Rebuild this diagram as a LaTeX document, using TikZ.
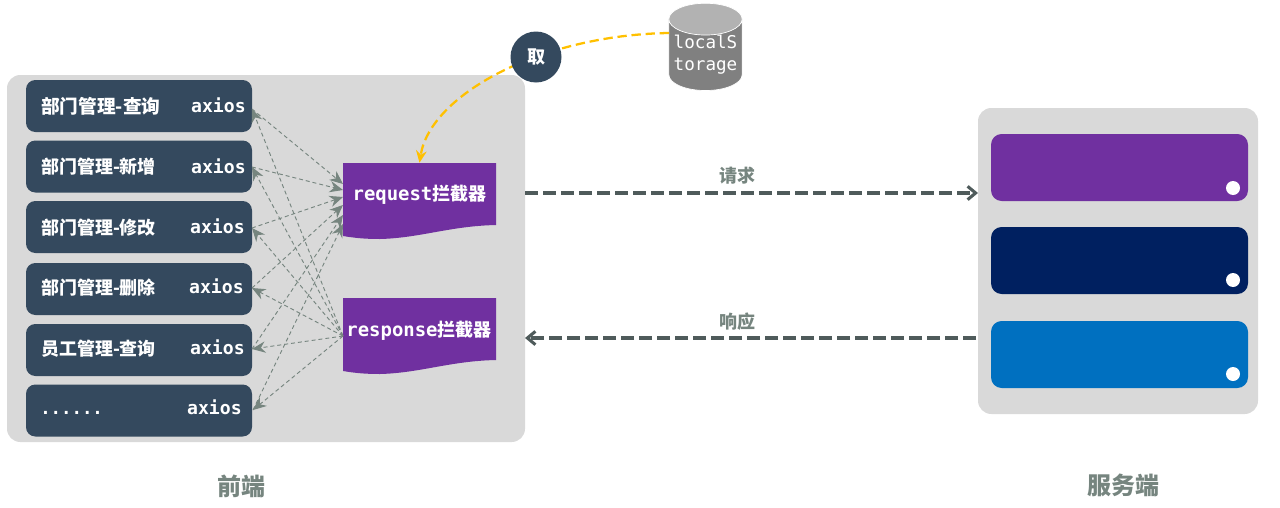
\documentclass[tikz,border=0pt]{standalone}
\usepackage{fontspec}
\usetikzlibrary{arrows.meta,shapes.geometric}
\setmonofont{DejaVu Sans Mono}
\newfontfamily\cjk{Noto Sans CJK SC}
\definecolor{panelgray}{HTML}{D9D9D9}
\definecolor{apiblue}{HTML}{34495E}
\definecolor{docpurple}{HTML}{7030A0}
\definecolor{srvnavy}{HTML}{002060}
\definecolor{srvblue}{HTML}{0070C0}
\definecolor{labelgray}{HTML}{76857F}
\definecolor{mainarrow}{HTML}{4F5B5B}
\definecolor{fetchyellow}{HTML}{FFC000}

\begin{document}
\begin{tikzpicture}[
                x=0.75pt, y=-0.75pt,          % 1 unit = 1 pixel
                panel/.style={fill=panelgray, rounded corners=10pt, inner sep=0pt},
                apibox/.style={fill=apiblue, rounded corners=7pt, inner sep=0pt,
                    minimum width=169.5pt, minimum height=39pt},
                apitext/.style={anchor=west, text=white, inner sep=0pt,
                    font=\cjk\bfseries\fontsize{13.45}{16}\selectfont},
                axiostext/.style={anchor=east, text=white, inner sep=0pt,
                    font=\ttfamily\bfseries\fontsize{13.6}{16}\selectfont},
                doctext/.style={text=white, inner sep=0pt,
                    font=\ttfamily\bfseries\fontsize{14.2}{16}\selectfont},
                srvbox/.style={rounded corners=8pt, inner sep=0pt,
                    minimum width=192.75pt, minimum height=50.25pt},
                srvdot/.style={circle, fill=white, inner sep=0pt, minimum size=10.5pt},
                title/.style={text=labelgray, inner sep=0pt,
                    font=\cjk\bfseries\fontsize{18}{22}\selectfont},
                caption/.style={text=labelgray, inner sep=0pt,
                    font=\cjk\bfseries\fontsize{13.5}{16}\selectfont},
                thinarrow/.style={-{Stealth[length=10pt,width=8.5pt]}, labelgray,
                    line width=0.7pt, dash pattern=on 3pt off 2.2pt},
                mainarr/.style={-{Straight Barb[length=6pt,width=10pt]}, mainarrow,
                    line width=2.3pt, dash pattern=on 9.5pt off 4pt}
            ]
                \useasboundingbox (0,0) rectangle (1280,507);

                % 底板
                \node[panel, minimum width=388.5pt, minimum height=275.25pt] (front) at (266,258.5) {};
                \node[panel, minimum width=210pt, minimum height=229.5pt] (back) at (1118,261) {};

                % 左侧按钮
                \node[apibox] (b1) at (139,106) {};
                \node[apibox] (b2) at (139,166.5) {};
                \node[apibox] (b3) at (139,227) {};
                \node[apibox] (b4) at (139,289) {};
                \node[apibox] (b5) at (139,350) {};
                \node[apibox] (b6) at (139,410.5) {};

                \node[apitext, font=\cjk\bfseries\fontsize{14}{16}\selectfont] (t1) at (41,106) {部门管理-查询};
                \node[apitext] (t2) at (41,167) {部门管理-新增};
                \node[apitext] (t3) at (41,228) {部门管理-修改};
                \node[apitext] (t4) at (41,288) {部门管理-删除};
                \node[apitext] (t5) at (41,349) {员工管理-查询};
                \node[apitext, font=\ttfamily\bfseries\fontsize{13}{16}\selectfont] (t6) at (40,413) {......};

                \node[axiostext] (ax1) at (246,105) {axios};
                \node[axiostext] (ax2) at (246,166) {axios};
                \node[axiostext] (ax3) at (245,226) {axios};
                \node[axiostext] (ax4) at (244,286) {axios};
                \node[axiostext] (ax5) at (245,347) {axios};
                \node[axiostext] (ax6) at (242,407) {axios};

                % 拦截器
                \fill[docpurple] (343,163) -- (496,163) -- (496,225)
                    .. controls (450,226) and (420,238) .. (380,239)
                    .. controls (365,239) and (355,238) .. (343,236) -- cycle;
                \fill[docpurple] (343,298) -- (496,298) -- (496,360)
                    .. controls (450,361) and (420,373) .. (380,374)
                    .. controls (365,374) and (355,373) .. (343,371) -- cycle;
                \node[inner sep=0pt, minimum width=114.75pt, minimum height=54.75pt] (req) at (419.5,199.5) {};
                \node[inner sep=0pt, minimum width=114.75pt, minimum height=54.75pt] (resp) at (419.5,334.5) {};
                \node[doctext] (reqtext) at (419.5,194.5) {request{\cjk\fontsize{13.5}{16}\selectfont 拦截器}};
                \node[doctext] (resptext) at (419,330.5) {response{\cjk\fontsize{13.5}{16}\selectfont 拦截器}};

                % 虚线端点
                \coordinate (p1) at (252,109);
                \coordinate (p2) at (252,167);
                \coordinate (p3) at (252,228);
                \coordinate (p4) at (252,288);
                \coordinate (p5) at (252,349);
                \coordinate (p6) at (253,410);
                \coordinate (q1) at (343,184);
                \coordinate (q2) at (343,190);
                \coordinate (q3) at (343,197);
                \coordinate (q4) at (343,205);
                \coordinate (q5) at (343,215);
                \coordinate (q6) at (343,224);
                \coordinate (r0) at (343,336);

                % 请求
                \draw[thinarrow] (p1) -- (q1);
                \draw[thinarrow] (p2) -- (q2);
                \draw[thinarrow] (p3) -- (q3);
                \draw[thinarrow] (p4) -- (q4);
                \draw[thinarrow] (p5) -- (q5);
                \draw[thinarrow] (p6) -- (q6);
                % 响应
                \draw[thinarrow] (r0) -- (p1);
                \draw[thinarrow] (r0) -- (p2);
                \draw[thinarrow] (r0) -- (p3);
                \draw[thinarrow] (r0) -- (p4);
                \draw[thinarrow] (r0) -- (p5);
                \draw[thinarrow] (r0) -- (p6);

                % 服务端
                \node[srvbox, fill=docpurple] (s1) at (1119.5,167.5) {};
                \node[srvbox, fill=srvnavy] (s2) at (1119.5,260.5) {};
                \node[srvbox, fill=srvblue] (s3) at (1119.5,354.5) {};
                \node[srvdot] (d1) at (1233,188) {};
                \node[srvdot] (d2) at (1233,280) {};
                \node[srvdot] (d3) at (1233,374) {};

                % localStorage
                \node[cylinder, shape border rotate=90, aspect=0.5, draw=white, line width=0.5pt,
                    cylinder uses custom fill, cylinder body fill=black!50, cylinder end fill=black!30,
                    minimum width=55pt, minimum height=53.5pt, inner sep=0pt,
                    text=white, align=center, font=\ttfamily\fontsize{13.2}{16.5}\selectfont]
                    (store) at (705.5,55) {localS\\torage};
                \coordinate (storeleft) at (669,33);

                \draw[-{Stealth[length=9pt,width=8pt]}, fetchyellow, line width=1.7pt,
                    dash pattern=on 7pt off 3.6pt]
                    (storeleft) .. controls (540,35) and (430,95) .. (req.north);
                \node[circle, fill=apiblue, inner sep=0pt, minimum size=38.25pt, text=white,
                    font=\cjk\bfseries\fontsize{13.5}{16}\selectfont] (fetch) at (536,57) {取};

                % 主箭头
                \coordinate (reqout) at (525,193);
                \coordinate (reqin) at (978,193);
                \coordinate (respout) at (976,338);
                \coordinate (respin) at (525,338);
                \draw[mainarr] (reqout) -- (reqin);
                \draw[mainarr] (respout) -- (respin);
                \node[caption] (reqlabel) at (737,176) {请求};
                \node[caption] (resplabel) at (737,321.5) {响应};

                % 标题
                \node[title] (fronttitle) at (241,486.5) {前端};
                \node[title] (backtitle) at (1123,485.5) {服务端};
            \end{tikzpicture}
\end{document}
